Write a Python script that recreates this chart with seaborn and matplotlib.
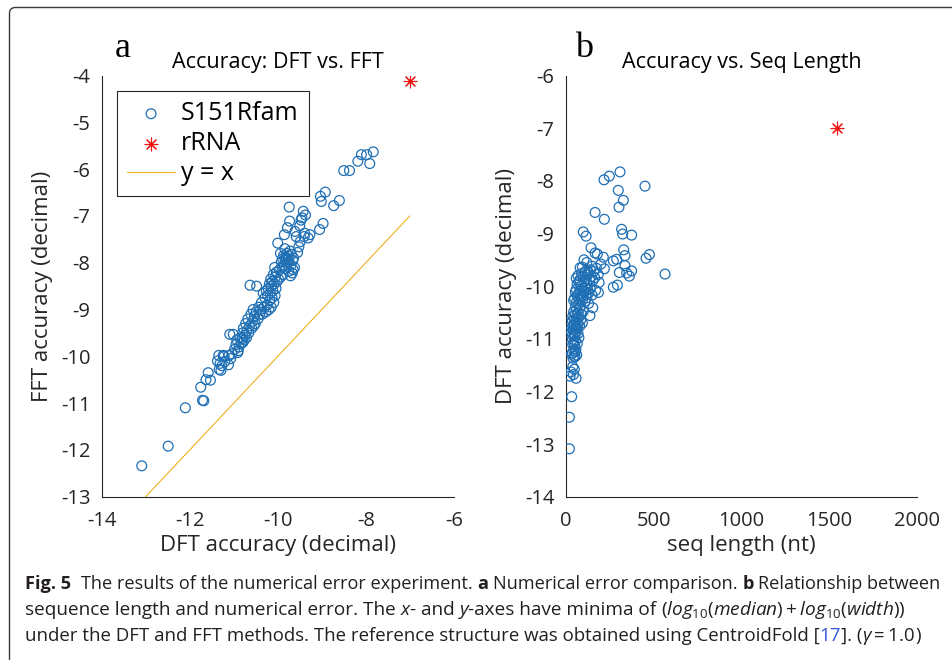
import numpy as np
import pandas as pd
import matplotlib
matplotlib.use("Agg")
import matplotlib.pyplot as plt
import seaborn as sns
from matplotlib import font_manager as fm
from matplotlib.font_manager import FontProperties
from matplotlib.patches import FancyBboxPatch
from matplotlib.transforms import IdentityTransform

# ---------------- data ----------------
# one row per S151Rfam sequence: DFT accuracy, FFT accuracy, sequence length
dft = [-7.83, -7.91, -7.98, -8.10, -8.18, -8.37, -8.50, -8.60, -8.73, -8.92,
       -8.97, -9.01, -9.03, -9.05, -9.27, -9.31, -9.37, -9.39, -9.40, -9.42,
       -9.45, -9.47, -9.49, -9.50, -9.52, -9.55, -9.58,
       -9.61, -9.62, -9.64, -9.65, -9.66, -9.67, -9.69, -9.70, -9.71, -9.72,
       -9.73, -9.74, -9.74, -9.75, -9.76, -9.77, -9.78, -9.79, -9.80, -9.81,
       -9.82, -9.83, -9.84, -9.85, -9.86, -9.87, -9.88, -9.89, -9.90, -9.92,
       -9.93, -9.94, -9.96, -9.98, -10.00,
       -10.02, -10.03, -10.04, -10.05, -10.06, -10.07, -10.08, -10.09, -10.10, -10.11,
       -10.12, -10.13, -10.14, -10.15, -10.16, -10.17, -10.18, -10.19, -10.20, -10.22,
       -10.23, -10.24, -10.26, -10.27, -10.29, -10.31, -10.33, -10.35, -10.37, -10.39,
       -10.41, -10.43, -10.45, -10.48, -10.49, -10.51, -10.53, -10.54, -10.56, -10.57,
       -10.59, -10.61, -10.63, -10.64, -10.66, -10.68, -10.70, -10.71, -10.73, -10.75,
       -10.76, -10.78, -10.79, -10.80, -10.80,
       -10.83, -10.86, -10.88, -10.90, -10.91, -10.93, -10.95, -10.98, -11.01, -11.04,
       -11.07, -11.09, -11.11, -11.12, -11.20,
       -11.22, -11.24, -11.27, -11.29, -11.31, -11.33, -11.34, -11.37, -11.53, -11.58,
       -11.63, -11.68, -11.71, -11.75,
       -12.10, -12.49, -13.09]

fft = [-5.63, -5.88, -5.69, -5.69, -5.83, -6.03, -6.03, -6.67, -6.78, -6.49,
       -7.16, -6.69, -6.58, -7.29, -7.40, -7.47, -6.98, -7.37, -7.44, -6.90,
       -7.04, -7.09, -7.55, -7.21, -7.66, -7.78, -7.44,
       -7.33, -8.10, -7.90, -8.15, -7.95, -8.22, -7.82, -8.05, -8.28, -7.75,
       -7.11, -6.81, -7.98, -8.18, -7.85, -7.92, -7.25, -8.00, -7.80, -8.12,
       -7.88, -7.95, -7.70, -7.40, -8.05, -7.85, -8.25, -7.92, -8.10, -7.98,
       -8.30, -7.80, -8.15, -8.35, -7.58,
       -8.40, -8.20, -8.55, -8.30, -8.70, -8.10, -8.45, -8.85, -8.25, -8.60,
       -8.40, -8.75, -8.50, -8.95, -8.35, -8.65, -8.80, -8.45, -9.00, -8.55,
       -8.70, -8.90, -8.60, -9.05, -8.75, -8.95, -8.65, -9.10, -8.85, -9.00,
       -9.10, -8.95, -9.20, -8.50, -9.05, -9.30, -9.15, -9.34, -9.00, -9.25,
       -9.40, -9.10, -8.48, -9.35, -9.50, -9.20, -9.45, -9.60, -9.30, -9.55,
       -9.65, -9.40, -9.70, -9.62, -9.50,
       -9.72, -9.61, -9.80, -9.88, -9.92, -9.65, -9.75, -9.85, -9.53, -9.95,
       -10.05, -9.53, -9.98, -10.18, -10.11,
       -10.00, -9.98, -10.20, -10.30, -10.15, -10.28, -9.98, -10.10, -10.51, -10.35,
       -10.50, -10.95, -10.94, -10.66,
       -11.10, -11.92, -12.34]

seq_len = [309, 248, 218, 451, 299, 328, 303, 167, 220, 318,
           100, 324, 375, 116, 144, 330, 167, 180, 476, 337,
           214, 457, 290, 104, 271, 120, 200,
           337, 150, 95, 82, 175, 220, 140, 120, 375, 160,
           110, 130, 305, 347, 90, 565, 185, 125, 70, 362,
           145, 100, 165, 60, 115, 135, 80, 155, 105, 75,
           190, 120, 65, 294, 88,
           271, 110, 95, 140, 60, 125, 170, 80, 105, 55,
           186, 130, 90, 72, 115, 150, 65, 100, 85, 120,
           50, 75, 95, 45, 110, 60, 130, 70, 85, 55,
           154, 80, 60, 100, 45, 70, 90, 55, 138, 40,
           75, 65, 50, 85, 38, 60, 95, 48, 70, 42,
           80, 58, 35, 65, 52,
           45, 60, 34, 70, 50, 40, 53, 75, 38, 55,
           45, 66, 40, 50, 58,
           45, 55, 38, 34, 63, 48, 53, 42, 40, 49,
           30, 44, 25, 59,
           34, 21, 21]

rrna_dft = [-7.0]
rrna_fft = [-4.12]
rrna_len = [1541]
identity_line = [-13, -7]

xticks_a = [-14, -12, -10, -8, -6]
yticks_a = [-13, -12, -11, -10, -9, -8, -7, -6, -5, -4]
xticks_b = [0, 500, 1000, 1500, 2000]
yticks_b = [-14, -13, -12, -11, -10, -9, -8, -7, -6]

legend_labels = ["S151Rfam", "rRNA", "y = x"]

# ---------------- style ----------------
sns.set_style("white")


def pick(cands):
    for c in cands:
        try:
            fm.findfont(FontProperties(family=c), fallback_to_default=False)
            return c
        except Exception:
            pass
    return "DejaVu Sans"


SANS = pick(["Open Sans", "Noto Sans", "Lato", "DejaVu Sans"])
SERIF = pick(["Liberation Serif", "DejaVu Serif"])

plt.rcParams["font.family"] = [SANS, "DejaVu Sans"]
plt.rcParams["axes.unicode_minus"] = False
plt.rcParams["mathtext.fontset"] = "custom"
plt.rcParams["mathtext.rm"] = SANS
plt.rcParams["mathtext.it"] = SANS + ":italic"
plt.rcParams["mathtext.bf"] = SANS + ":bold"

BLUE = "#1f6fb5"
RED = "#F01010"
ORANGE = "#EDB120"
AXC = "#262626"

W, H = 953, 660
fig = plt.figure(figsize=(W / 100, H / 100), dpi=100)
fig.patch.set_facecolor("white")


def rect(l, t, r, b):
    return [l / W, 1 - b / H, (r - l) / W, (b - t) / H]


axa = fig.add_axes(rect(101.7, 75.6, 453.8, 496.7))
axb = fig.add_axes(rect(565.7, 75.6, 917.3, 496.7))

df = pd.DataFrame({"dft": dft, "fft": fft, "len": seq_len})
rr = pd.DataFrame({"dft": rrna_dft, "fft": rrna_fft, "len": rrna_len})

MS = 50
# ---- panel a ----
sns.scatterplot(data=df, x="dft", y="fft", ax=axa, marker="o", s=MS,
                facecolors="none", edgecolor=BLUE, linewidth=0.9, legend=False, zorder=3)
sns.scatterplot(data=rr, x="dft", y="fft", ax=axa, marker=(8, 2, 0), s=85,
                color=RED, linewidth=0.8, legend=False, zorder=3)
sns.lineplot(x=identity_line, y=identity_line, ax=axa, color=ORANGE, linewidth=0.8,
             estimator=None, sort=False, legend=False, zorder=2)

# ---- panel b ----
sns.scatterplot(data=df, x="len", y="dft", ax=axb, marker="o", s=MS,
                facecolors="none", edgecolor=BLUE, linewidth=0.9, legend=False, zorder=3)
sns.scatterplot(data=rr, x="len", y="dft", ax=axb, marker=(8, 2, 0), s=85,
                color=RED, linewidth=0.8, legend=False, zorder=3)

for ax, xt, yt, xl, yl in [(axa, xticks_a, yticks_a, (-14, -6), (-13, -4)),
                            (axb, xticks_b, yticks_b, (0, 2000), (-14, -6))]:
    ax.set_xlim(*xl)
    ax.set_ylim(*yl)
    ax.set_xticks(xt)
    ax.set_yticks(yt)
    ax.set_xticklabels([str(v) for v in xt])
    ax.set_yticklabels([str(v) for v in yt])
    for s in ["top", "right"]:
        ax.spines[s].set_visible(False)
    for s in ["left", "bottom"]:
        ax.spines[s].set_color(AXC)
        ax.spines[s].set_linewidth(0.8)
    ax.tick_params(direction="in", length=5, width=0.8, color=AXC,
                   labelcolor=AXC, labelsize=14.5)
    ax.tick_params(axis="x", pad=10)
    ax.tick_params(axis="y", pad=8)
    ax.set_facecolor("white")

axa.set_title("Accuracy: DFT vs. FFT", fontsize=15.5, pad=5.5, color="black")
axb.set_title("Accuracy vs. Seq Length", fontsize=15.5, pad=5.5, color="black")
axa.set_xlabel("DFT accuracy (decimal)", fontsize=16, color=AXC)
axa.set_ylabel("FFT accuracy (decimal)", fontsize=16, color=AXC)
axb.set_xlabel("seq length (nt)", fontsize=16, color=AXC)
axb.set_ylabel("DFT accuracy (decimal)", fontsize=16, color=AXC)
axa.xaxis.set_label_coords(0.5, -0.091)
axb.xaxis.set_label_coords(0.5, -0.091)
axa.yaxis.set_label_coords(-0.138, 0.5)
axb.yaxis.set_label_coords(-0.139, 0.5)

handles = [axa.collections[0], axa.collections[1], axa.lines[0]]
leg = axa.legend(handles, legend_labels, loc="upper left",
                 bbox_to_anchor=(0.0443, 0.9627), borderaxespad=0, borderpad=0.4,
                 labelspacing=0.2, handlelength=1.9, handletextpad=0.25,
                 scatterpoints=1, frameon=True, fancybox=False, framealpha=1,
                 edgecolor=AXC, prop=FontProperties(family=SANS, size=18))
leg.get_frame().set_linewidth(0.8)
for t in leg.get_texts():
    t.set_color("black")

# panel letters
fig.text(115 / W, 1 - 57 / H, "a", fontfamily=SERIF, fontsize=26, ha="left",
         va="baseline", color="black")
fig.text(575 / W, 1 - 57 / H, "b", fontfamily=SERIF, fontsize=26, ha="left",
         va="baseline", color="black")

# ---------------- caption ----------------
renderer = fig.canvas.get_renderer()
CAPC = "#231f20"
LINKC = "#3355dd"


def text_w(s, fp):
    t = fig.text(0, 0, s, fontproperties=fp)
    w = t.get_window_extent(renderer).width
    t.remove()
    return w


def run_w(s, fp, math=False):
    if math:
        return text_w(s, fp)
    return text_w("|" + s + "|", fp) - text_w("||", fp)


def props(style, sz):
    if style == "b":
        return FontProperties(family=SANS, size=sz, weight="bold")
    if style == "i":
        return FontProperties(family=SANS, size=sz, style="italic")
    return FontProperties(family=SANS, size=sz)


def caption_line(runs, x0, ybase, target_w, base=12.0):
    total = sum(run_w(t, props(st, base), st == "m") for t, st in runs)
    sz = base * target_w / total
    x = x0
    for t, st in runs:
        fp = props(st, sz)
        col = LINKC if st == "blue" else CAPC
        if st == "m":
            w = run_w(t, fp, True)
            body, lead = t, 0.0
        else:
            w = run_w(t, fp)
            body = t.strip()
            nlead = len(t) - len(t.lstrip())
            lead = run_w(" " * nlead, fp) if nlead else 0.0
        if body:
            fig.text((x + lead) / W, 1 - ybase / H, body, fontproperties=fp,
                     color=col, ha="left", va="baseline")
        x += w


line1 = [("Fig. 5", "b"), ("  The results of the numerical error experiment. ", "n"),
         ("a", "b"), (" Numerical error comparison. ", "n"), ("b", "b"),
         (" Relationship between", "n")]
line2 = [("sequence length and numerical error. The ", "n"), ("x", "i"),
         ("- and ", "n"), ("y", "i"), ("-axes have minima of ", "n"),
         (r"$(\mathit{log}_{10}(\mathit{median})+\mathit{log}_{10}(\mathit{width}))$", "m")]
line3 = [("under the DFT and FFT methods. The reference structure was obtained using CentroidFold [", "n"),
         ("17", "blue"), ("]. (", "n"), (r"$\gamma=1.0$", "m"), (")", "n")]

caption_line(line1, 25, 589, 914)
caption_line(line2, 25, 615, 880)
caption_line(line3, 25, 641, 892)

# figure frame (rounded box, open to the right and bottom)
frame = FancyBboxPatch((9.5, -30), 1000, 652.5 + 30, boxstyle="round,pad=0,rounding_size=6",
                       transform=IdentityTransform(), fill=False, edgecolor="#3a3a3a",
                       linewidth=1.0)
fig.add_artist(frame)

fig.savefig("out.png", dpi=100, facecolor="white")
